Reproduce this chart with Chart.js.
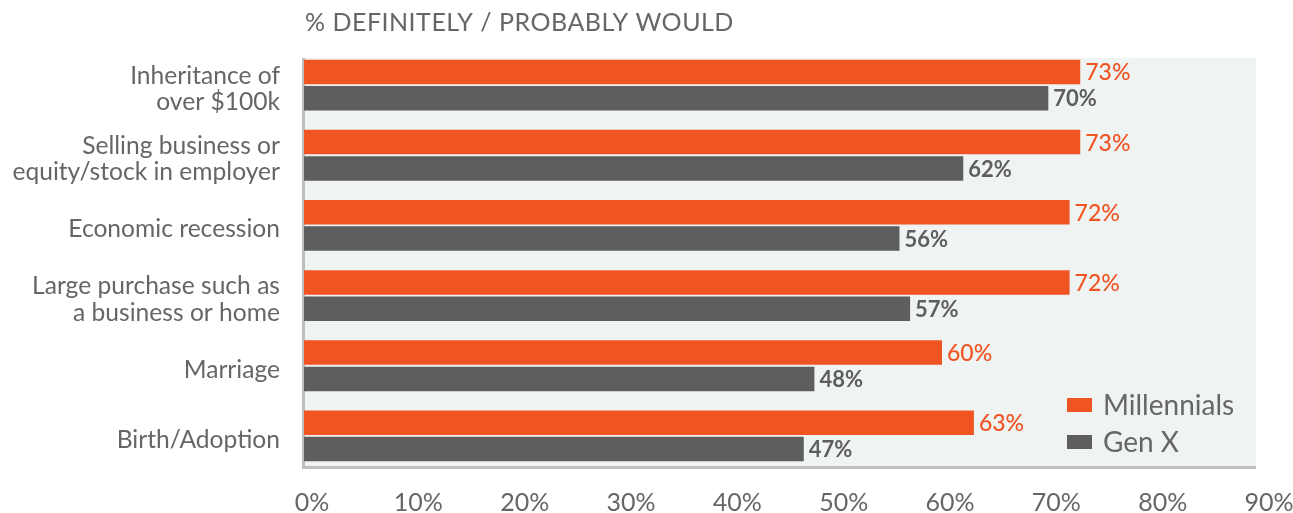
<!DOCTYPE html>
<html><head><meta charset="utf-8">
<script src="https://cdn.jsdelivr.net/npm/chart.js@4.4.1/dist/chart.umd.min.js"></script>
<style>html,body{margin:0;padding:0;background:#fff}#wrap{width:1293px;height:513px}</style>
</head><body><div id="wrap"><canvas id="c" width="1293" height="513"></canvas></div>
<script>
const categories = [
  ["Inheritance of", "over $100k"],
  ["Selling business or", "equity/stock in employer"],
  ["Economic recession"],
  ["Large purchase such as", "a business or home"],
  ["Marriage"],
  ["Birth/Adoption"]
];
const seriesNames = ["Millennials", "Gen X"];
const millennials = [73, 73, 72, 72, 60, 63];
const genX = [70, 62, 56, 57, 48, 47];
const xTicks = [0, 10, 20, 30, 40, 50, 60, 70, 80, 90];
const titleText = "% DEFINITELY / PROBABLY WOULD";

const ORANGE = "#f05423", GRAY = "#5e5e5e", TXT = "#666666";
const FONT = "Lato";

const decor = {
  id: "decor",
  beforeDatasetsDraw(chart) {
    const {ctx, chartArea: a, scales: {x}} = chart;
    ctx.save();
    const top = a.top + 8, bottom = a.bottom - 4;
    const right = x.getPixelForValue(xTicks[xTicks.length-1]) - 5;
    ctx.fillStyle = "#eff3f2";
    ctx.fillRect(x.getPixelForValue(0), top, right - x.getPixelForValue(0), bottom - top);
    ctx.fillStyle = "#bfbfbf";
    ctx.fillRect(a.left - 2, top, 3, bottom - top + 2);
    ctx.fillRect(a.left - 2, bottom - 1, right - a.left + 2, 3);
    ctx.restore();
  },
  afterDatasetsDraw(chart) {
    const {ctx, chartArea: a} = chart;
    ctx.save();
    ctx.textBaseline = "middle";
    ctx.textAlign = "left";
    chart.data.datasets.forEach((ds, di) => {
      const meta = chart.getDatasetMeta(di);
      ctx.fillStyle = di === 0 ? ORANGE : GRAY;
      ctx.font = (di === 0 ? "500 23px " : "bold 22px ") + FONT;
      meta.data.forEach((el, i) => {
        ctx.fillText(ds.data[i] + "%", el.x + 5, el.y + 1);
      });
    });
    // title
    ctx.fillStyle = TXT;
    ctx.font = "25px " + FONT;
    ctx.letterSpacing = "0.5px";
    ctx.fillText(titleText, a.left + 1, 23);
    ctx.letterSpacing = "0px";
    // legend
    const lx = a.right - 194;
    const ys = [405, 442];
    ctx.font = "28px " + FONT;
    chart.data.datasets.forEach((ds, di) => {
      ctx.fillStyle = ds.backgroundColor;
      ctx.fillRect(lx, ys[di] - 7, 25, 14);
      ctx.fillStyle = TXT;
      ctx.fillText(ds.label, lx + 36, ys[di] + 1);
    });
    ctx.restore();
  }
};

new Chart(document.getElementById("c"), {
  type: "bar",
  data: {
    labels: categories,
    datasets: [
      {label: seriesNames[0], data: millennials, backgroundColor: ORANGE},
      {label: seriesNames[1], data: genX, backgroundColor: GRAY}
    ]
  },
  options: {
    indexAxis: "y",
    responsive: false,
    animation: false,
    devicePixelRatio: 1,
    categoryPercentage: 0.75,
    barPercentage: 0.93,
    layout: {padding: {top: 50, right: 32, bottom: 0, left: 0}},
    plugins: {legend: {display: false}, title: {display: false}, tooltip: {enabled: false}},
    scales: {
      x: {
        min: 0, max: 90,
        afterBuildTicks(s) { s.ticks = xTicks.map(v => ({value: v})); },
        afterFit(s) { s.height = 42; s.paddingLeft = 0; s.paddingRight = 0; },
        grid: {display: false, drawTicks: false},
        border: {display: false},
        ticks: {
          callback: v => v + "%",
          color: TXT, font: {family: FONT, size: 25},
          padding: 17, labelOffset: 8, maxRotation: 0, autoSkip: false
        }
      },
      y: {
        afterFit(s) { s.width = 304; s.paddingTop = 0; s.paddingBottom = 0; },
        grid: {display: false, drawTicks: false},
        border: {display: false},
        ticks: {
          color: TXT, font: {family: FONT, size: 24.6, lineHeight: 1.06},
          padding: 24, labelOffset: 4, autoSkip: false
        }
      }
    }
  },
  plugins: [decor]
});
</script></body></html>
